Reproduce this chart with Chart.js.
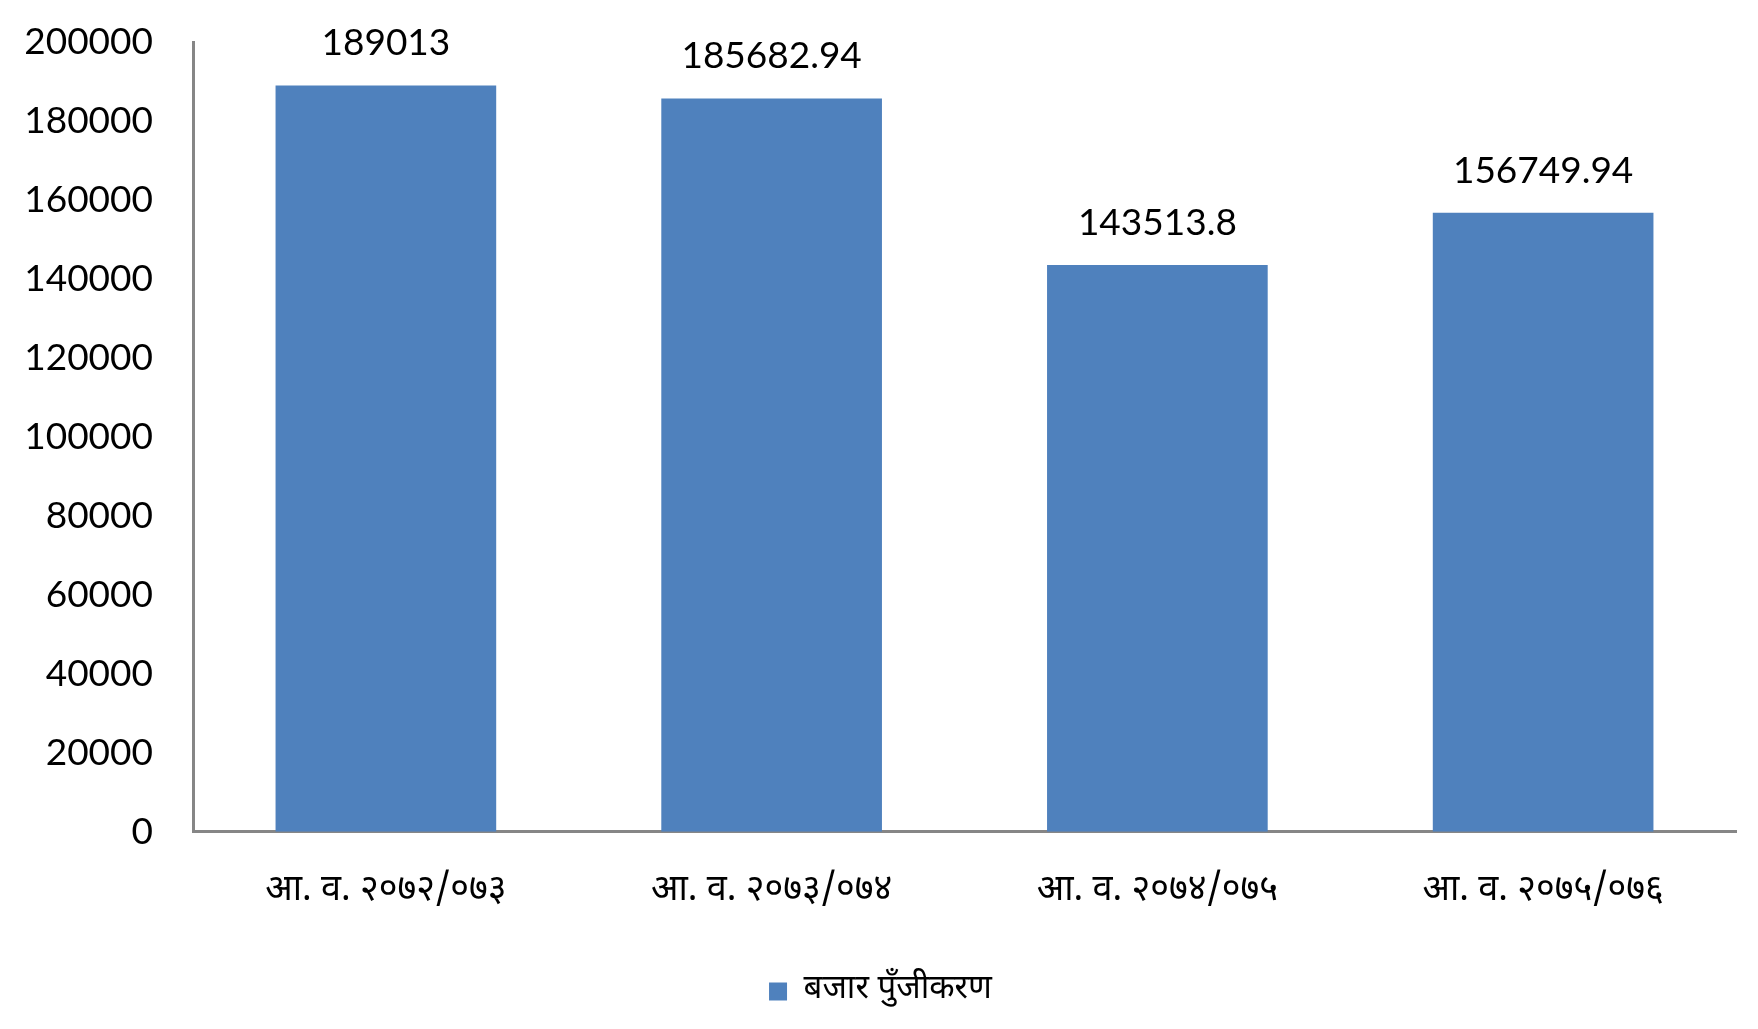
<!DOCTYPE html>
<html>
<head>
<meta charset="utf-8">
<script src="https://cdn.jsdelivr.net/npm/chart.js@4/dist/chart.umd.min.js"></script>
<style>
  html, body { margin: 0; padding: 0; background: #fff; }
  #wrap { width: 1758px; height: 1029px; }
</style>
</head>
<body>
<div id="wrap"><canvas id="grafica"></canvas></div>
<script>
// data
const categorias = ['आ. व. २०७२/०७३', 'आ. व. २०७३/०७४', 'आ. व. २०७४/०७५', 'आ. व. २०७५/०७६'];
const valores = [189013, 185682.94, 143513.8, 156749.94];
const nombreSerie = 'बजार पुँजीकरण';
const ejeMax = 200000;
const ejePaso = 20000;

const fuenteNum = 'Lato, "Open Sans", sans-serif';
const fuenteDeva = '"Noto Sans Devanagari", "Lohit Devanagari", "Noto Sans", sans-serif';

// etiquetas encima de cada barra
const etiquetas = {
  id: 'etiquetas',
  afterDatasetsDraw(chart) {
    const ctx = chart.ctx;
    const meta = chart.getDatasetMeta(0);
    ctx.save();
    ctx.font = '37px ' + fuenteNum;
    ctx.fillStyle = '#000';
    ctx.textAlign = 'center';
    ctx.textBaseline = 'middle';
    meta.data.forEach((barra, i) => {
      ctx.fillText(String(valores[i]), barra.x, barra.y - 42);
    });
    ctx.restore();
  }
};

let grafica1 = document.getElementById('grafica').getContext('2d');
let chart = new Chart(grafica1, {
  type: 'bar',
  data: {
    labels: categorias,
    datasets: [{
      label: nombreSerie,
      data: valores,
      backgroundColor: '#4f81bd',
      borderWidth: 0,
      categoryPercentage: 1,
      barPercentage: 0.572
    }]
  },
  options: {
    responsive: true,
    maintainAspectRatio: false,
    animation: false,
    layout: { padding: { left: 25, right: 22, top: 42, bottom: 11 } },
    plugins: {
      tooltip: { enabled: false },
      legend: {
        position: 'bottom',
        labels: {
          color: '#000',
          font: { family: fuenteDeva, size: 33 },
          boxWidth: 18,
          boxHeight: 18,
          padding: 20
        }
      }
    },
    scales: {
      x: {
        grid: { display: false, drawTicks: false },
        border: { color: '#868686', width: 3 },
        ticks: {
          color: '#000',
          padding: 40,
          font: { family: fuenteDeva, size: 36 }
        }
      },
      y: {
        min: 0,
        max: ejeMax,
        grid: { display: false, drawTicks: false },
        border: { color: '#868686', width: 3 },
        ticks: {
          stepSize: ejePaso,
          color: '#000',
          padding: 40,
          font: { family: fuenteNum, size: 37 },
          callback: v => String(v)
        },
        afterFit: eje => {
          // ancho del eje: etiqueta + separacion
          eje.width = 168;
          eje.paddingTop = 0;
        }
      }
    }
  },
  plugins: [etiquetas]
});
</script>
</body>
</html>
